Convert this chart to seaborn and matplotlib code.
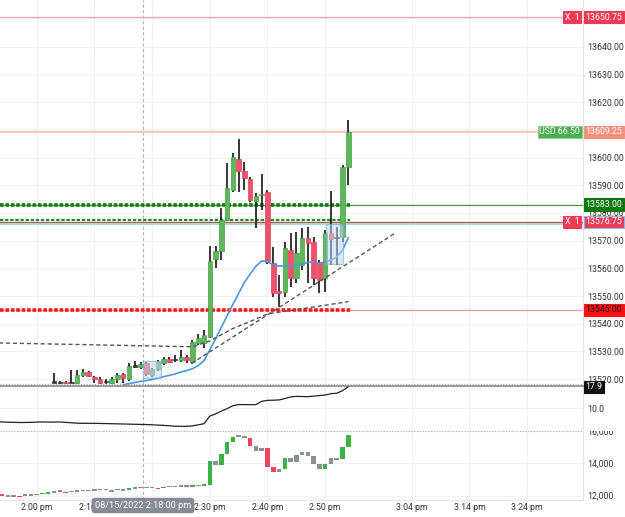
import numpy as np
import pandas as pd
import matplotlib
matplotlib.use("Agg")
import matplotlib.pyplot as plt
from matplotlib.patches import Rectangle
import seaborn as sns

# --- DATA (x = minutes after 2:00 pm, 1-minute candles) ---
CANDLE_MIN = list(range(3, 55))
OPEN = [13519.0, 13518.8, 13519.0, 13518.9, 13518.5, 13521.5, 13522.5, 13520.9, 13519.9, 13519.1,
        13518.7, 13519.9, 13521.8, 13519.9, 13524.7, 13524.5, 13525.7, 13521.5, 13523.5, 13525.7,
        13527.3, 13527.2, 13526.9, 13527.9, 13526.3, 13533.0, 13533.2, 13535.1, 13563.3, 13566.4,
        13577.5, 13588.3, 13599.5, 13595.0, 13592.3, 13584.3, 13586.4, 13587.7, 13561.8, 13552.0,
        13551.6, 13566.6, 13556.4, 13561.2, 13570.9, 13569.6, 13562.4, 13556.4, 13572.7, 13571.2,
        13571.4, 13596.7]
HIGH = [13522.3, 13519.2, 13519.3, 13523.3, 13523.3, 13523.7, 13523.0, 13521.3, 13520.9, 13520.0,
        13520.9, 13522.3, 13522.2, 13525.7, 13526.5, 13526.2, 13526.2, 13524.1, 13526.9, 13528.1,
        13528.1, 13528.6, 13530.5, 13528.6, 13534.1, 13536.2, 13537.7, 13568.2, 13568.2, 13581.8,
        13598.0, 13601.7, 13606.7, 13598.5, 13593.1, 13587.2, 13594.1, 13588.3, 13567.8, 13557.6,
        13569.6, 13572.7, 13573.3, 13574.6, 13575.0, 13571.4, 13563.0, 13573.9, 13588.0, 13575.0,
        13597.3, 13613.6]
LOW = [13518.5, 13518.3, 13518.3, 13518.5, 13518.3, 13520.9, 13520.8, 13518.7, 13518.4, 13518.4,
       13518.4, 13518.5, 13518.5, 13519.5, 13523.9, 13523.5, 13521.2, 13520.9, 13523.0, 13525.1,
       13525.7, 13526.3, 13526.3, 13526.0, 13525.4, 13532.3, 13531.3, 13534.7, 13560.0, 13563.0,
       13577.0, 13587.5, 13587.7, 13588.3, 13584.1, 13574.6, 13581.1, 13561.5, 13549.8, 13546.2,
       13549.8, 13553.4, 13554.6, 13559.4, 13554.6, 13554.0, 13551.2, 13551.6, 13561.2, 13561.2,
       13569.6, 13590.1]
CLOSE = [13519.2, 13518.6, 13518.5, 13519.0, 13521.5, 13522.7, 13521.2, 13519.9, 13518.7, 13519.1,
         13519.9, 13521.5, 13520.3, 13524.7, 13524.7, 13525.4, 13521.7, 13523.5, 13526.3, 13527.2,
         13526.3, 13527.2, 13528.1, 13526.9, 13533.5, 13535.0, 13535.8, 13562.5, 13566.4, 13577.5,
         13588.9, 13600.2, 13595.1, 13592.5, 13584.7, 13586.1, 13586.8, 13562.4, 13551.0, 13551.2,
         13567.2, 13556.4, 13565.4, 13570.9, 13569.1, 13556.4, 13555.8, 13572.7, 13570.5, 13571.2,
         13596.7, 13609.3]

MA_MIN = list(range(15, 55))
MA_VAL = [13518.0, 13518.4, 13518.8, 13519.2, 13519.5, 13519.9, 13520.4, 13520.9, 13521.4, 13521.9,
          13522.6, 13523.1, 13523.8, 13524.9, 13526.7, 13530.6, 13534.5, 13538.7, 13542.9, 13547.0,
          13551.0, 13554.9, 13558.0, 13560.8, 13562.7, 13562.5, 13561.3, 13560.8, 13561.0, 13560.7,
          13561.0, 13561.5, 13562.2, 13562.4, 13561.8, 13562.4, 13563.0, 13564.1, 13566.5, 13571.1]

# dashed guides
VWAP_MIN = [-7, 27, 30, 34, 38, 40, 45, 50, 54]
VWAP_VAL = [13533.1, 13531.7, 13533.8, 13538.3, 13541.7, 13543.6, 13545.1, 13546.7, 13548.0]
TREND_MIN = [26.85, 62.1]
TREND_VAL = [13525.7, 13572.7]

# price levels
LVL_STOP = 13650.75
LVL_TARGET = 13609.25
LVL_GREEN = 13583.00
LVL_GREEN2 = 13577.4
LVL_ENTRY = 13576.75
LVL_BLUE = 13575.9
LVL_RED = 13545.00

# highlight boxes (minute from, minute to, price low, price high)
BOX_A = (18.42, 21.54, 13520.4, 13526.5)
BOX_B = (50.2, 53.1, 13561.6, 13576.0)

# lower indicator
IND_MIN = list(range(-7, 55))
IND_VAL = [5.1, 5.05, 4.95, 4.9, 4.85, 4.85, 4.9, 5.0, 5.05, 5.0,
           5.0, 5.05, 4.9, 4.75, 4.6, 4.55, 4.55, 4.55, 4.5, 4.45,
           4.4, 4.35, 4.3, 4.25, 4.2, 4.15, 4.1, 4.0, 3.9, 3.8,
           3.65, 3.5, 3.45, 3.45, 3.6, 4.0, 4.4, 7.2, 8.0, 9.0,
           9.9, 11.0, 11.4, 11.4, 11.35, 11.4, 12.6, 12.95, 13.0, 13.1,
           13.6, 14.2, 14.4, 14.35, 14.3, 14.5, 14.7, 14.9, 15.4, 15.55,
           16.5, 17.9]

# cumulative volume steps (each bar runs from the previous level to this one)
VOL_START = 12070
VOL_MIN = list(range(-6, 55))
VOL_LEVEL = [12030, 12010, 12000, 11980, 11990, 12030, 12070, 12130, 12180, 12230,
             12240, 12220, 12250, 12270, 12280, 12300, 12320, 12330, 12340, 12330,
             12380, 12370, 12420, 12450, 12460, 12470, 12490, 12470, 12510, 12520,
             12540, 12550, 12560, 12590, 12600, 12640, 14140, 13900, 14580, 15300,
             15650, 15690, 15560, 15090, 14770, 14970, 13790, 13480, 13640, 14300,
             14100, 14510, 14680, 14470, 13940, 13640, 13940, 14300, 14260, 15030,
             15750]
VOL_TONE = list("rnnrnnnggn" "nrnnnnnnnn" "gngnnnnrgn"
                "nnngnggngg" "gnnrnnrrng" "nnnnnngnng" "g")

TIME_TICKS = [0, 10, 20, 30, 40, 50, 65, 75, 85]
TIME_LABELS = ["2:00 pm", "2:10 pm", "2:20 pm", "2:30 pm", "2:40 pm", "2:50 pm",
               "3:04 pm", "3:14 pm", "3:24 pm"]
CURSOR_MIN = 18.35
CURSOR_TEXT = "08/15/2022 2:18:00 pm"

# --- STYLE ---
W, H = 625, 517
PLOT_W = 583
X0, X1 = -6.36, 94.68
FS = 6.3
GREEN, RED, GREY = "#5cb85c", "#f2506b", "#8a8f98"

sns.set_style("white")
plt.rcParams["font.family"] = ["Roboto", "DejaVu Sans"]
plt.rcParams["font.size"] = FS

fig = plt.figure(figsize=(W / 100, H / 100), dpi=100)


def panel(top, bottom):
    ax = fig.add_axes([0, 1 - bottom / H, PLOT_W / W, (bottom - top) / H])
    ax.set_xlim(X0, X1)
    for s in ax.spines.values():
        s.set_visible(False)
    ax.spines["right"].set_visible(True)
    ax.spines["right"].set_color("#e3e3e3")
    ax.yaxis.tick_right()
    ax.tick_params(axis="y", length=0, pad=3, labelsize=FS, labelcolor="#333333")
    ax.tick_params(axis="x", length=0, labelbottom=False)
    ax.set_xticks(TIME_TICKS)
    ax.grid(True, color="#f2f2f2", lw=0.8)
    ax.set_axisbelow(True)
    ax.axvline(CURSOR_MIN, color="#b5b5b5", lw=0.8, ls=(0, (3, 2)), zorder=1)
    return ax


def tag(ax, y, text, fc, tc="white", ec=None, x=1.004, ha="left"):
    ax.text(x, y, text, transform=ax.get_yaxis_transform(), ha=ha, va="center",
            color=tc, fontsize=FS, clip_on=False, zorder=10,
            bbox=dict(boxstyle="square,pad=0.2", fc=fc, ec=ec or fc, lw=0.8))


ax1 = panel(0, 385)
ax2 = panel(386, 431)
ax3 = panel(431, 500)

# --- PRICE PANEL ---
ax1.set_ylim(13517.9, 13656.9)
ax1.set_yticks(np.arange(13520, 13641, 10))
ax1.yaxis.set_major_formatter(lambda v, p: f"{v:.2f}")

ax1.axhline(LVL_STOP, color="#f6a5ae", lw=1)
ax1.axhline(LVL_TARGET, color="#f9c9c1", lw=1.6)
ax1.axhline(LVL_GREEN, color="#3a9d3a", lw=0.9)
ax1.hlines(LVL_GREEN, X0, 54.3, color="#0f7d0f", lw=2.6, linestyles=(0, (1.0, 0.5)))
ax1.hlines(LVL_GREEN2, X0, 54.3, color="#1a8a1a", lw=1.6, linestyles=(0, (1.5, 0.8)))
ax1.axhline(LVL_ENTRY, color="#b5553f", lw=0.9)
ax1.axhline(LVL_BLUE, color="#a9cff2", lw=1.3)
ax1.axhline(LVL_RED, color="#f4a0a0", lw=1)
ax1.hlines(LVL_RED, X0, 54.3, color="#ff1a1a", lw=2.6, linestyles=(0, (1.0, 0.5)))
ax1.axhline(13518.4, color="#aaaaaa", lw=0.8, ls=(0, (1, 1.5)))

candles = pd.DataFrame({"m": CANDLE_MIN, "o": OPEN, "h": HIGH, "l": LOW, "c": CLOSE})
body = (candles["c"] - candles["o"]).to_numpy()
flat = np.abs(body) < 0.25
col = np.where(body >= 0, GREEN, RED)
col = np.where(flat, "#333333", col)
edge = np.where(body >= 0, "#4a9c45", "#d9435c")
edge = np.where(flat, "#333333", edge)
ax1.vlines(candles["m"], candles["l"], candles["h"], color="#262626", lw=1.3, zorder=3)
ax1.bar(candles["m"], np.where(flat, 0.5, body), bottom=np.where(flat, candles["o"] - 0.25, candles["o"]),
        width=0.78, color=col, edgecolor=edge, lw=0.5, zorder=4)

sns.lineplot(x=MA_MIN, y=MA_VAL, ax=ax1, color="#4a97e0", lw=1.2, zorder=5, legend=False)
sns.lineplot(x=VWAP_MIN, y=VWAP_VAL, ax=ax1, color="#555555", lw=1.0, ls=(0, (3, 2)), zorder=5)
sns.lineplot(x=TREND_MIN, y=TREND_VAL, ax=ax1, color="#555555", lw=1.0, ls=(0, (3, 2)), zorder=5)

for m0, m1, p0, p1 in (BOX_A, BOX_B):
    ax1.add_patch(Rectangle((m0, p0), m1 - m0, p1 - p0, fc="#bcd6f0", ec="#6fa7d8",
                            alpha=0.55, lw=0.9, zorder=6))

tag(ax1, LVL_STOP, "13650.75", "#ef3b56")
tag(ax1, LVL_STOP, "X  1", "#ef3b56", x=572 / PLOT_W, ha="center")
tag(ax1, LVL_TARGET, "13609.25", "#f8907e")
tag(ax1, LVL_TARGET, "USD 66.50", "#4caf50", ec="#8fd18f", x=580 / PLOT_W, ha="right")
tag(ax1, LVL_GREEN, "13583.00", "#0e7a0e")
tag(ax1, LVL_ENTRY, "13576.75", "#ef3b56", ec="#8ab8e6")
tag(ax1, LVL_ENTRY, "X  1", "#ef3b56", x=572 / PLOT_W, ha="center")
tag(ax1, LVL_RED, "13545.00", "#ff1010", tc="#111111")

# --- INDICATOR PANEL ---
ax2.set_ylim(1.74, 18.2)
ax2.set_yticks([10])
ax2.yaxis.set_major_formatter(lambda v, p: f"{v:.1f}")
ax2.spines["top"].set_visible(True)
ax2.spines["top"].set_color("#999999")
ax2.spines["top"].set_linewidth(1.4)
sns.lineplot(x=IND_MIN, y=IND_VAL, ax=ax2, color="#222222", lw=0.9, zorder=4)
tag(ax2, IND_VAL[-1], f"{IND_VAL[-1]:.1f}", "#111111")

# --- VOLUME PANEL ---
ax3.set_ylim(11729, 16000)
ax3.set_yticks([12000, 14000, 16000])
ax3.yaxis.set_major_formatter(lambda v, p: f"{v:,.0f}")
ax3.axhline(15990, color="#aaaaaa", lw=0.8, ls=(0, (1, 1.5)))
ax3.spines["bottom"].set_visible(True)
ax3.spines["bottom"].set_color("#e6e6e6")
prev = np.array([VOL_START] + VOL_LEVEL[:-1])
level = np.array(VOL_LEVEL)
step = level - prev
step = np.where(np.abs(step) < 90, np.sign(step + 0.1) * 90, step)
tone = {"g": "#3fb144", "r": "#f0435e", "n": GREY}
ax3.bar(VOL_MIN, step, bottom=prev, width=0.78, color=[tone[t] for t in VOL_TONE], lw=0, zorder=4)
ax3.tick_params(axis="x", labelbottom=True, pad=2, labelsize=FS, labelcolor="#333333")
ax3.set_xticklabels(TIME_LABELS)

clip = Rectangle((0, 0), 1, 1 - 431 / H, transform=fig.transFigure)
for t in ax3.get_yticklabels():
    t.set_clip_path(clip)

fig.text(143 / W, 1 - 505.5 / H, CURSOR_TEXT, ha="center", va="center",
         color="white", fontsize=FS + 0.3, zorder=20,
         bbox=dict(boxstyle="round,pad=0.35", fc="#878b93", ec="none"))

fig.savefig("out.png", dpi=100)
